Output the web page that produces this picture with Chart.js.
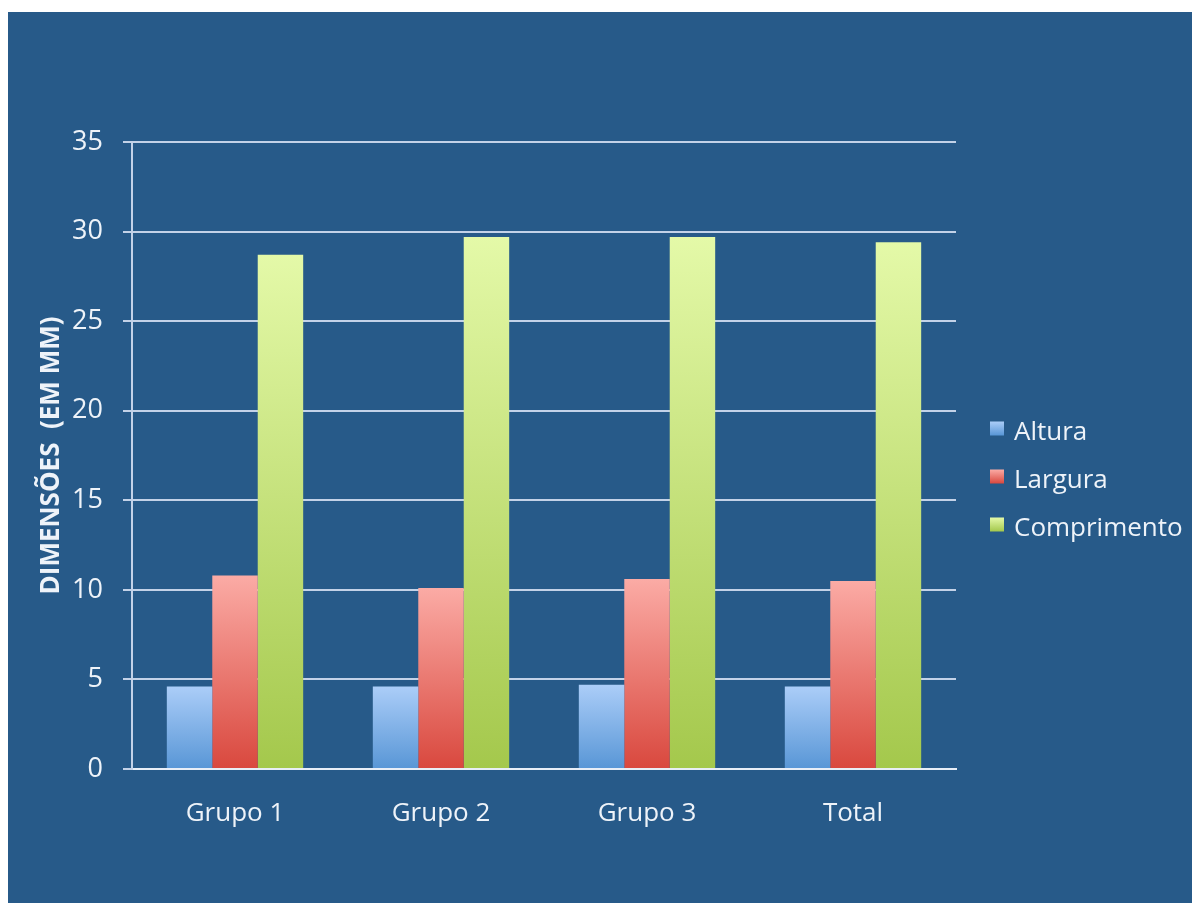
<!DOCTYPE html>
<html>
<head>
<meta charset="utf-8">
<script src="https://cdn.jsdelivr.net/npm/chart.js@4/dist/chart.umd.min.js"></script>
<style>
  html, body { margin: 0; padding: 0; background: #ffffff; }
  #slide {
    position: absolute; left: 8px; top: 12px;
    width: 1184px; height: 891px;
    background: #275a89;
  }
</style>
</head>
<body>
<div id="slide"><canvas id="grafico" width="1184" height="891"></canvas></div>
<script>
const categorias = ["Grupo 1", "Grupo 2", "Grupo 3", "Total"];
const altura = [4.6, 4.6, 4.7, 4.6];
const largura = [10.8, 10.1, 10.6, 10.5];
const comprimento = [28.7, 29.7, 29.7, 29.4];
const series = ["Altura", "Largura", "Comprimento"];

// gradiente de cada barra: topo claro, base escura
const cores = [
  { topo: "#abcdf8", base: "#5896d6" },
  { topo: "#fbaba5", base: "#d9483e" },
  { topo: "#e4f9a8", base: "#a4c84c" },
];

const textoCor = "#eef3f9";
const linhaCor = "#c3d2e8";

Chart.defaults.font.family = "'Open Sans', sans-serif";
Chart.defaults.color = textoCor;

function gradienteBarra(ctx, cor) {
  const chart = ctx.chart;
  const y = chart.scales.y;
  if (!y || ctx.raw === undefined) return cor.base;
  const y0 = y.getPixelForValue(0);
  const y1 = y.getPixelForValue(ctx.raw);
  if (!isFinite(y0) || !isFinite(y1)) return cor.base;
  const g = chart.ctx.createLinearGradient(0, y1, 0, y0);
  g.addColorStop(0, cor.topo);
  g.addColorStop(1, cor.base);
  return g;
}

// legenda desenhada à direita da área do gráfico
const legendaLateral = {
  id: "legendaLateral",
  afterDraw(chart) {
    const { ctx, chartArea } = chart;
    const x = chartArea.right + 34;
    const meio = (chartArea.top + chartArea.bottom) / 2 + 21;
    const passo = 48;
    ctx.save();
    ctx.font = "26px 'Open Sans', sans-serif";
    ctx.textBaseline = "middle";
    ctx.textAlign = "left";
    chart.data.datasets.forEach((ds, i) => {
      const cy = meio + (i - 1) * passo;
      const g = ctx.createLinearGradient(0, cy - 7, 0, cy + 7);
      g.addColorStop(0, cores[i].topo);
      g.addColorStop(1, cores[i].base);
      ctx.fillStyle = g;
      ctx.fillRect(x, cy - 7, 14, 14);
      ctx.fillStyle = textoCor;
      ctx.fillText(ds.label, x + 24, cy + 4);
    });
    ctx.restore();
  },
};

new Chart(document.getElementById("grafico"), {
  type: "bar",
  data: {
    labels: categorias,
    datasets: [
      { label: series[0], data: altura, backgroundColor: (c) => gradienteBarra(c, cores[0]) },
      { label: series[1], data: largura, backgroundColor: (c) => gradienteBarra(c, cores[1]) },
      { label: series[2], data: comprimento, backgroundColor: (c) => gradienteBarra(c, cores[2]) },
    ],
  },
  options: {
    responsive: false,
    animation: false,
    layout: { padding: { top: 130, right: 236, left: 0, bottom: 0 } },
    datasets: {
      bar: { categoryPercentage: 0.662, barPercentage: 1, borderWidth: 0 },
    },
    plugins: {
      legend: { display: false },
      tooltip: { enabled: false },
    },
    scales: {
      x: {
        grid: { display: false },
        border: { display: true, color: "#e8eef7", width: 2 },
        ticks: { font: { size: 26 }, padding: 21, color: textoCor },
        afterFit(scale) { scale.height = 134; },
      },
      y: {
        min: 0,
        max: 35,
        ticks: { stepSize: 5, font: { size: 27 }, padding: 20, color: textoCor },
        grid: { color: linhaCor, lineWidth: 2, tickLength: 9 },
        border: { display: true, color: linhaCor, width: 2 },
        title: {
          display: true,
          text: "DIMENSÕES  (EM MM)",
          font: { size: 26, weight: "bold" },
          color: textoCor,
          padding: { top: 28, bottom: 0 },
        },
        afterFit(scale) { scale.width = 124; },
      },
    },
  },
  plugins: [legendaLateral],
});
</script>
</body>
</html>
